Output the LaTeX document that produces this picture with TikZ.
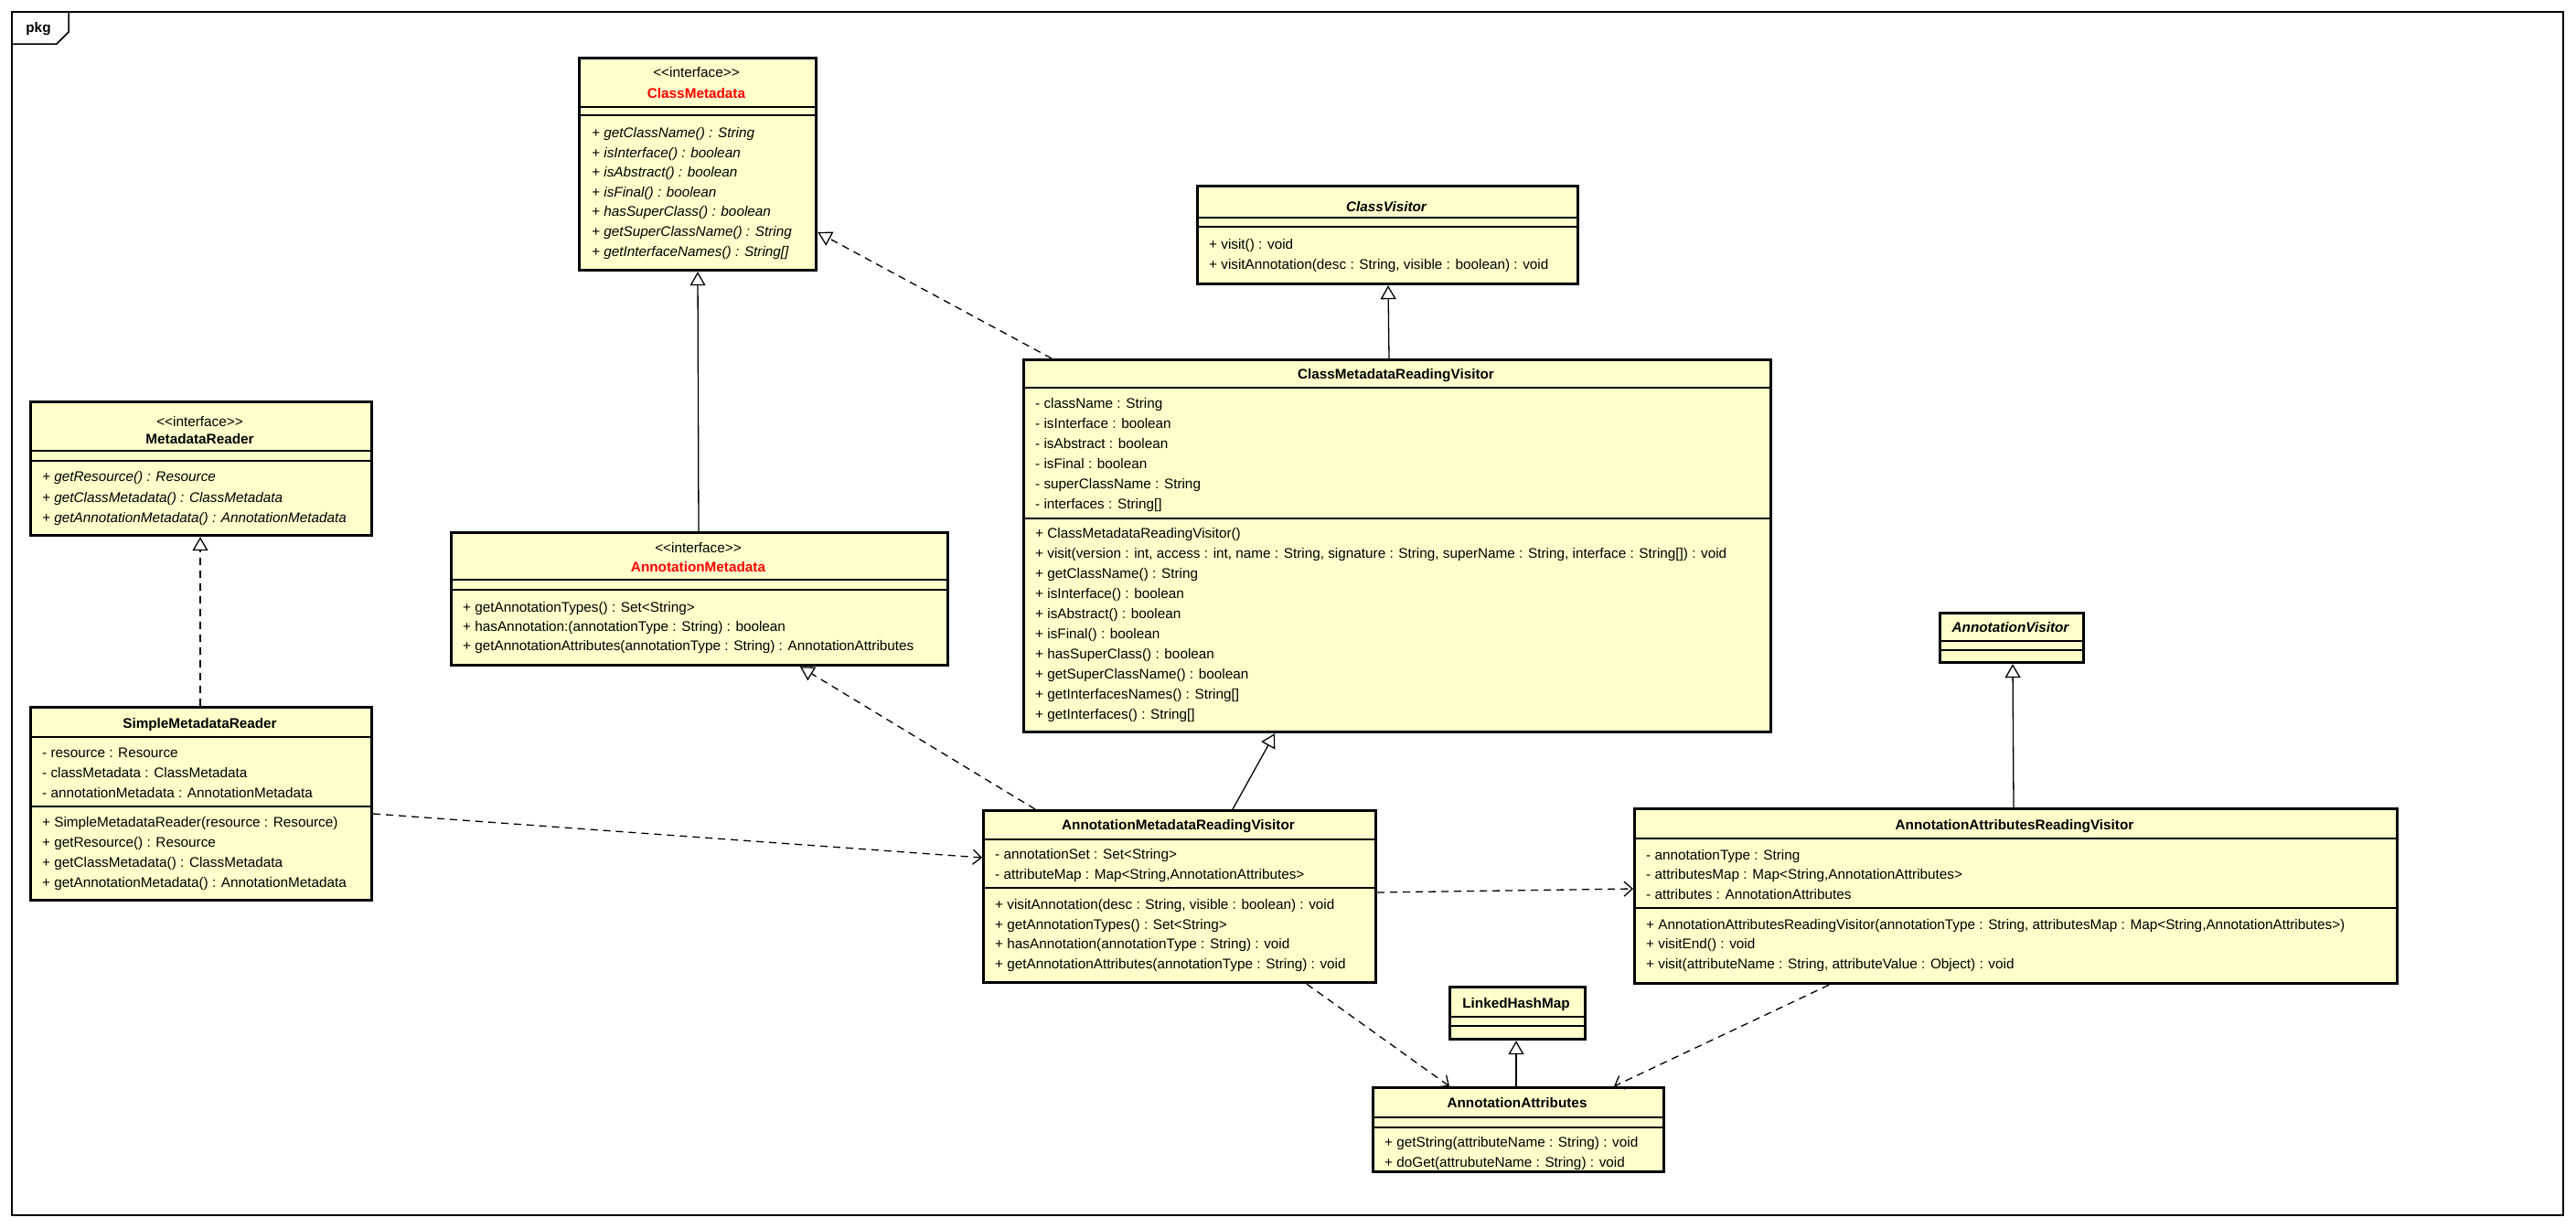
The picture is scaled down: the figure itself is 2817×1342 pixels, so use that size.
\documentclass[tikz,border=0pt]{standalone}
\usepackage{fontspec}
\setmainfont{Liberation Sans}
\usetikzlibrary{arrows.meta}
\definecolor{umlfill}{RGB}{255,255,204}
\definecolor{umlred}{RGB}{255,0,0}
\newcommand{\umlfont}{\fontsize{15.3}{18}\selectfont}
\tikzset{
  frame/.style={line width=1.5pt},
  classbox/.style={draw, line width=3.2pt, fill=umlfill, anchor=north west, inner sep=0pt},
  sepline/.style={line width=1.4pt},
  member/.style={anchor=west, inner sep=0pt, text height=11pt, text depth=3pt, font=\umlfont},
  absmember/.style={member, font=\umlfont\itshape},
  stereo/.style={inner sep=0pt, text height=11pt, text depth=3pt, font=\umlfont},
  cname/.style={inner sep=0pt, text height=11pt, text depth=3pt, font=\umlfont\bfseries},
  absname/.style={cname, font=\umlfont\bfseries\itshape},
  gen/.style={draw, line width=1.3pt, -{Triangle[open, length=15pt, width=17pt, line width=1.3pt]}},
  real/.style={gen, dash pattern=on 8pt off 6pt},
  dep/.style={draw, line width=1.3pt, dash pattern=on 8pt off 6pt, -{Straight Barb[length=9pt, width=16pt, line width=1.3pt]}}
}
\begin{document}
\begin{tikzpicture}[x=1pt,y=-1pt]
  \useasboundingbox (0,0) rectangle (2817,1342);
  % package frame
  \draw[frame] (13,13) rectangle (2803,1329);
  \draw[frame] (13,48) -- (62,48) -- (75,35) -- (75,13);
  \node[cname] (pkg) at (42,31) {pkg};

  % ClassMetadata
  \node[classbox, minimum width=259pt, minimum height=232pt] (cm) at (632,62) {};
  \draw[sepline] (cm.west |- 0,117) -- (cm.east |- 0,117);
  \draw[sepline] (cm.west |- 0,126) -- (cm.east |- 0,126);
  \node[stereo] (cm-st) at (761.5,80) {{<}{<}interface{>}{>}};
  \node[cname, text=umlred] (cm-nm) at (761.5,103) {ClassMetadata};
  \node[absmember] (cm-m1) at (647,146) {+ getClassName() : String};
  \node[absmember] (cm-m2) at (647,168) {+ isInterface() : boolean};
  \node[absmember] (cm-m3) at (647,189) {+ isAbstract() : boolean};
  \node[absmember] (cm-m4) at (647,211) {+ isFinal() : boolean};
  \node[absmember] (cm-m5) at (647,232) {+ hasSuperClass() : boolean};
  \node[absmember] (cm-m6) at (647,254) {+ getSuperClassName() : String};
  \node[absmember] (cm-m7) at (647,276) {+ getInterfaceNames() : String[]};

  % ClassVisitor
  \node[classbox, minimum width=416pt, minimum height=107pt] (cv) at (1308,202) {};
  \draw[sepline] (cv.west |- 0,238) -- (cv.east |- 0,238);
  \draw[sepline] (cv.west |- 0,248) -- (cv.east |- 0,248);
  \node[absname] (cv-nm) at (1516,227) {ClassVisitor};
  \node[member] (cv-m1) at (1322,268) {+ visit() : void};
  \node[member] (cv-m2) at (1322,290) {+ visitAnnotation(desc : String, visible : boolean) : void};

  % MetadataReader
  \node[classbox, minimum width=373pt, minimum height=146pt] (mr) at (32,438) {};
  \draw[sepline] (mr.west |- 0,493) -- (mr.east |- 0,493);
  \draw[sepline] (mr.west |- 0,504) -- (mr.east |- 0,504);
  \node[stereo] (mr-st) at (218.5,462) {{<}{<}interface{>}{>}};
  \node[cname] (mr-nm) at (218.5,481) {MetadataReader};
  \node[absmember] (mr-m1) at (46,522) {+ getResource() : Resource};
  \node[absmember] (mr-m2) at (46,545) {+ getClassMetadata() : ClassMetadata};
  \node[absmember] (mr-m3) at (46,567) {+ getAnnotationMetadata() : AnnotationMetadata};

  % AnnotationMetadata
  \node[classbox, minimum width=543pt, minimum height=145pt] (am) at (492,581) {};
  \draw[sepline] (am.west |- 0,634) -- (am.east |- 0,634);
  \draw[sepline] (am.west |- 0,645) -- (am.east |- 0,645);
  \node[stereo] (am-st) at (763.5,600) {{<}{<}interface{>}{>}};
  \node[cname, text=umlred] (am-nm) at (763.5,621) {AnnotationMetadata};
  \node[member] (am-m1) at (506,665) {+ getAnnotationTypes() : Set<String>};
  \node[member] (am-m2) at (506,686) {+ hasAnnotation:(annotationType : String) : boolean};
  \node[member] (am-m3) at (506,707) {+ getAnnotationAttributes(annotationType : String) : AnnotationAttributes};

  % ClassMetadataReadingVisitor
  \node[classbox, minimum width=817pt, minimum height=407pt] (cmrv) at (1118,392) {};
  \draw[sepline] (cmrv.west |- 0,424) -- (cmrv.east |- 0,424);
  \draw[sepline] (cmrv.west |- 0,567) -- (cmrv.east |- 0,567);
  \node[cname] (cmrv-nm) at (1526.5,410) {ClassMetadataReadingVisitor};
  \node[member] (cmrv-a1) at (1132,442) {- className : String};
  \node[member] (cmrv-a2) at (1132,464) {- isInterface : boolean};
  \node[member] (cmrv-a3) at (1132,486) {- isAbstract : boolean};
  \node[member] (cmrv-a4) at (1132,508) {- isFinal : boolean};
  \node[member] (cmrv-a5) at (1132,530) {- superClassName : String};
  \node[member] (cmrv-a6) at (1132,552) {- interfaces : String[]};
  \node[member] (cmrv-m1) at (1132,584) {+ ClassMetadataReadingVisitor()};
  \node[member] (cmrv-m2) at (1132,606) {+ visit(version : int, access : int, name : String, signature : String, superName : String, interface : String[]) : void};
  \node[member] (cmrv-m3) at (1132,628) {+ getClassName() : String};
  \node[member] (cmrv-m4) at (1132,650) {+ isInterface() : boolean};
  \node[member] (cmrv-m5) at (1132,672) {+ isAbstract() : boolean};
  \node[member] (cmrv-m6) at (1132,694) {+ isFinal() : boolean};
  \node[member] (cmrv-m7) at (1132,716) {+ hasSuperClass() : boolean};
  \node[member] (cmrv-m8) at (1132,738) {+ getSuperClassName() : boolean};
  \node[member] (cmrv-m9) at (1132,760) {+ getInterfacesNames() : String[]};
  \node[member] (cmrv-m10) at (1132,782) {+ getInterfaces() : String[]};

  % AnnotationVisitor
  \node[classbox, minimum width=157pt, minimum height=54pt] (av) at (2120,669) {};
  \draw[sepline] (av.west |- 0,701) -- (av.east |- 0,701);
  \draw[sepline] (av.west |- 0,711) -- (av.east |- 0,711);
  \node[absname] (av-nm) at (2198.5,687) {AnnotationVisitor};

  % SimpleMetadataReader
  \node[classbox, minimum width=373pt, minimum height=211pt] (smr) at (32,772) {};
  \draw[sepline] (smr.west |- 0,806) -- (smr.east |- 0,806);
  \draw[sepline] (smr.west |- 0,882) -- (smr.east |- 0,882);
  \node[cname] (smr-nm) at (218.5,792) {SimpleMetadataReader};
  \node[member] (smr-a1) at (46,824) {- resource : Resource};
  \node[member] (smr-a2) at (46,846) {- classMetadata : ClassMetadata};
  \node[member] (smr-a3) at (46,868) {- annotationMetadata : AnnotationMetadata};
  \node[member] (smr-m1) at (46,900) {+ SimpleMetadataReader(resource : Resource)};
  \node[member] (smr-m2) at (46,922) {+ getResource() : Resource};
  \node[member] (smr-m3) at (46,944) {+ getClassMetadata() : ClassMetadata};
  \node[member] (smr-m4) at (46,966) {+ getAnnotationMetadata() : AnnotationMetadata};

  % AnnotationMetadataReadingVisitor
  \node[classbox, minimum width=429pt, minimum height=188pt] (amrv) at (1074,885) {};
  \draw[sepline] (amrv.west |- 0,918) -- (amrv.east |- 0,918);
  \draw[sepline] (amrv.west |- 0,971) -- (amrv.east |- 0,971);
  \node[cname] (amrv-nm) at (1288.5,903) {AnnotationMetadataReadingVisitor};
  \node[member] (amrv-a1) at (1088,935) {- annotationSet : Set<String>};
  \node[member] (amrv-a2) at (1088,957) {- attributeMap : Map<String,AnnotationAttributes>};
  \node[member] (amrv-m1) at (1088,990) {+ visitAnnotation(desc : String, visible : boolean) : void};
  \node[member] (amrv-m2) at (1088,1012) {+ getAnnotationTypes() : Set<String>};
  \node[member] (amrv-m3) at (1088,1033) {+ hasAnnotation(annotationType : String) : void};
  \node[member] (amrv-m4) at (1088,1055) {+ getAnnotationAttributes(annotationType : String) : void};

  % AnnotationAttributesReadingVisitor
  \node[classbox, minimum width=834pt, minimum height=191pt] (aarv) at (1786,883) {};
  \draw[sepline] (aarv.west |- 0,917) -- (aarv.east |- 0,917);
  \draw[sepline] (aarv.west |- 0,993) -- (aarv.east |- 0,993);
  \node[cname] (aarv-nm) at (2203,903) {AnnotationAttributesReadingVisitor};
  \node[member] (aarv-a1) at (1800,936) {- annotationType : String};
  \node[member] (aarv-a2) at (1800,957) {- attributesMap : Map<String,AnnotationAttributes>};
  \node[member] (aarv-a3) at (1800,979) {- attributes : AnnotationAttributes};
  \node[member] (aarv-m1) at (1800,1012) {+ AnnotationAttributesReadingVisitor(annotationType : String, attributesMap : Map<String,AnnotationAttributes>)};
  \node[member] (aarv-m2) at (1800,1033) {+ visitEnd() : void};
  \node[member] (aarv-m3) at (1800,1055) {+ visit(attributeName : String, attributeValue : Object) : void};

  % LinkedHashMap
  \node[classbox, minimum width=148pt, minimum height=57pt] (lhm) at (1584,1078) {};
  \draw[sepline] (lhm.west |- 0,1112) -- (lhm.east |- 0,1112);
  \draw[sepline] (lhm.west |- 0,1122) -- (lhm.east |- 0,1122);
  \node[cname] (lhm-nm) at (1658,1098) {LinkedHashMap};

  % AnnotationAttributes
  \node[classbox, minimum width=318pt, minimum height=92pt] (aa) at (1500,1188) {};
  \draw[sepline] (aa.west |- 0,1222) -- (aa.east |- 0,1222);
  \draw[sepline] (aa.west |- 0,1233) -- (aa.east |- 0,1233);
  \node[cname] (aa-nm) at (1659,1207) {AnnotationAttributes};
  \node[member] (aa-m1) at (1514,1250) {+ getString(attributeName : String) : void};
  \node[member] (aa-m2) at (1514,1272) {+ doGet(attrubuteName : String) : void};

  % generalizations and realizations
  \draw[gen] (am.north -| 764,0) -- (cm.south -| 763,0);
  \draw[real] (cmrv.north -| 1150,0) -- (cm.east |- 0,254);
  \draw[gen] (cmrv.north -| 1519,0) -- (cv.south -| 1518,0);
  \draw[real] (smr.north -| 219,0) -- (mr.south -| 219,0);
  \draw[gen] (amrv.north -| 1348,0) -- (cmrv.south -| 1394,0);
  \draw[real] (amrv.north -| 1132,0) -- (am.south -| 875,0);
  \draw[gen] (aarv.north -| 2202,0) -- (av.south -| 2201,0);
  \draw[gen] (aa.north -| 1658,0) -- (lhm.south -| 1658,0);
  % dependencies
  \draw[dep] (smr.east |- 0,890) -- (amrv.west |- 0,938);
  \draw[dep] (amrv.east |- 0,976) -- (aarv.west |- 0,972);
  \draw[dep] (amrv.south -| 1429,0) -- (aa.north -| 1585,0);
  \draw[dep] (aarv.south -| 2000,0) -- (aa.north -| 1765,0);
\end{tikzpicture}
\end{document}
